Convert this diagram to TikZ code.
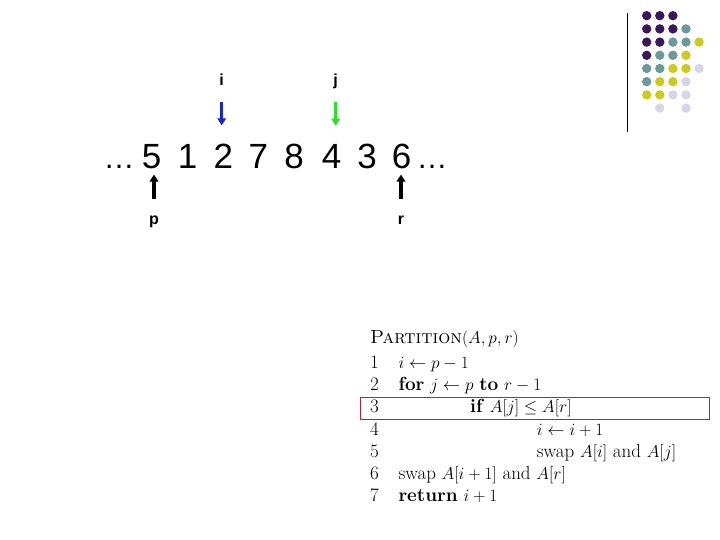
\documentclass[tikz,border=0pt]{standalone}
\usepackage{amsmath,amssymb}
\usepackage{fontspec}
\newfontfamily\arial{Liberation Sans}
\usetikzlibrary{arrows.meta}

\definecolor{dotpurple}{RGB}{58,22,92}
\definecolor{dotteal}{RGB}{108,154,154}
\definecolor{dotyellow}{RGB}{204,202,30}
\definecolor{dotlilac}{RGB}{214,214,232}
\definecolor{ptrblue}{RGB}{24,36,204}
\definecolor{ptrgreen}{RGB}{40,226,40}
\definecolor{boxred}{RGB}{176,40,48}

\begin{document}
\begin{tikzpicture}[x=1pt,y=-1pt,
    digit/.style={font=\arial\fontsize{35}{40}\selectfont, inner sep=0pt, anchor=base},
    idx/.style={font=\arial\bfseries\fontsize{16}{18}\selectfont, inner sep=0pt, anchor=base, text height=11.5pt, text depth=0pt},
    ptr/.style={line width=3.3pt, -{Triangle[length=7pt,width=8.5pt]}},
    code/.style={font=\fontsize{19}{23}\selectfont, inner sep=0pt, anchor=base west}]
    \useasboundingbox (0,0) rectangle (720,540);

    % dots in the corner
    \draw [line width=1.1pt] (627.3,12.7) -- (627.3,131.7);
    \foreach \x / \y / \c in {0/0/dotpurple,1/0/dotpurple,2/0/dotpurple,
        0/1/dotpurple,1/1/dotpurple,2/1/dotpurple,3/1/dotteal,
        0/2/dotpurple,1/2/dotpurple,2/2/dotteal,3/2/dotteal,4/2/dotyellow,
        0/3/dotpurple,1/3/dotteal,2/3/dotteal,3/3/dotyellow,
        0/4/dotteal,1/4/dotteal,2/4/dotyellow,3/4/dotyellow,4/4/dotlilac,
        0/5/dotteal,1/5/dotyellow,2/5/dotyellow,3/5/dotlilac,
        0/6/dotyellow,1/6/dotyellow,2/6/dotlilac,3/6/dotlilac,
        1/7/dotlilac,3/7/dotlilac}
    \fill [\c] (646.7+13.1*\x,15.7+13.2*\y) circle (4.7pt);

    % the array
    \node [digit, font=\arial\fontsize{31}{36}\selectfont] (ldots) at (119,168.3) {…};
    \foreach \v / \x [count=\k] in {5/151.7,1/187.7,2/223.3,7/258.3,8/294,4/331.7,3/367,6/401.7}
    \node [digit] (d\k) at (\x,168.3) {\v};
    \node [digit, font=\arial\fontsize{31}{36}\selectfont] (rdots) at (432,168.3) {…};

    % pointers
    \node [idx] (ilab) at (221.7,85.5) {i};
    \node [idx] (jlab) at (335.7,85.5) {j};
    \draw [ptr, ptrblue, shorten <=16.2pt, shorten >=18.3pt] (ilab.south) -- (ilab.south |- d3.north);
    \draw [ptr, ptrgreen, shorten <=16.2pt, shorten >=18.3pt] (jlab.south) -- (jlab.south |- d6.north);
    \node [idx, text height=8.3pt] (plab) at (154,225) {p};
    \node [idx, text height=8.3pt] (rlab) at (401,225) {r};
    \draw [ptr, black, shorten <=17.4pt, shorten >=5.7pt] (plab.north) -- (plab.north |- d1.south);
    \draw [ptr, black, shorten <=17.4pt, shorten >=5.7pt] (rlab.north) -- (rlab.north |- d8.south);

    % pseudocode
    \node [code] (head) at (370,343.3) {\textsc{Partition}$(A,p,r)$};
    \foreach \y [count=\k] in {368.3,390.7,412.7,435,457.3,479.3,501.7}
    \node [code] (n\k) at (370,\y) {\k};
    \node [code] (c1) at (398.3,368.3) {$i \leftarrow p-1$};
    \node [code] (c2) at (398.3,390.7) {\textbf{for} $j \leftarrow p$ \textbf{to} $r-1$};
    \node [code] (c3) at (470,412.7) {\textbf{if} $A[j] \le A[r]$};
    \node [code] (c4) at (536.7,435) {$i \leftarrow i+1$};
    \node [code] (c5) at (536.7,457.3) {swap $A[i]$ and $A[j]$};
    \node [code] (c6) at (398.3,479.3) {swap $A[i+1]$ and $A[r]$};
    \node [code] (c7) at (398.3,501.7) {\textbf{return} $i+1$};
    \draw [boxred, line width=0.9pt] (360,397.3) rectangle (709,419.3);
\end{tikzpicture}
\end{document}
